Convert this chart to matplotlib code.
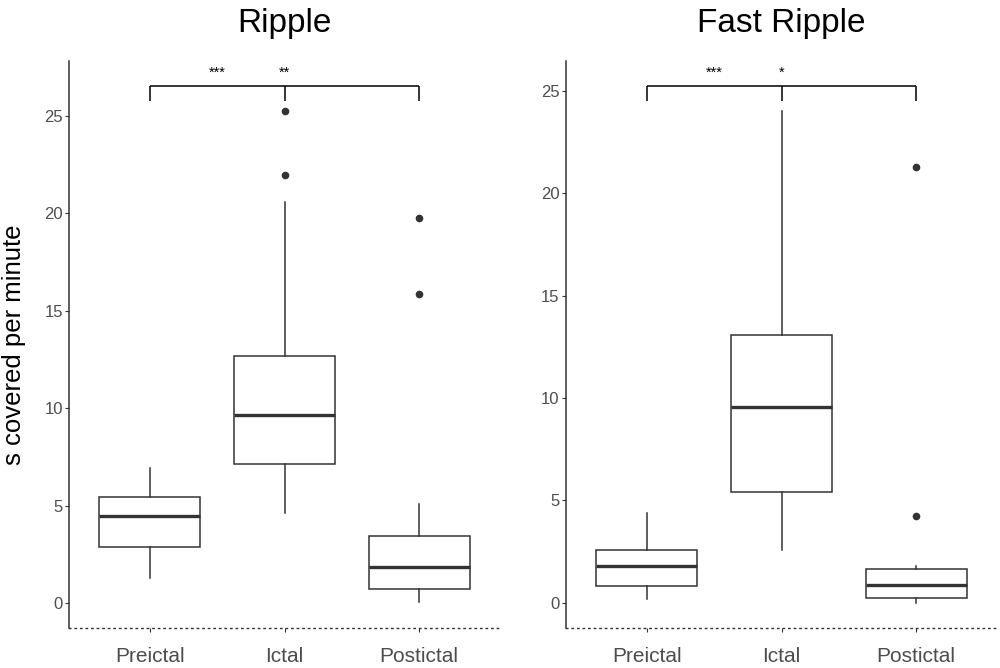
import matplotlib
matplotlib.use("Agg")
import matplotlib.pyplot as plt

plt.rcParams['font.family'] = ['Liberation Sans', 'DejaVu Sans']

categories = ["Preictal", "Ictal", "Postictal"]

# Ripple panel stats
rip_whislo = [1.30, 4.63, 0.04]
rip_q1 = [2.86, 7.13, 0.70]
rip_med = [4.46, 9.64, 1.83]
rip_q3 = [5.42, 12.68, 3.42]
rip_whishi = [6.90, 20.58, 5.08]
rip_fliers = [[], [25.25, 21.95], [19.76, 15.83]]

# Fast Ripple panel stats
fr_whislo = [0.20, 2.60, 0.00]
fr_q1 = [0.81, 5.42, 0.22]
fr_med = [1.79, 9.56, 0.88]
fr_q3 = [2.60, 13.06, 1.64]
fr_whishi = [4.40, 24.01, 1.82]
fr_fliers = [[], [], [21.26, 4.25]]

titles = ["Ripple", "Fast Ripple"]
sig_labels = [["***", "**"], ["***", "*"]]
bracket_y = [26.5, 25.23]
bracket_drop = [0.76, 0.73]
sig_y = [27.2, 25.9]
ylims = [(-1.28, 27.8), (-1.23, 26.46)]

panels = [
    (rip_whislo, rip_q1, rip_med, rip_q3, rip_whishi, rip_fliers),
    (fr_whislo, fr_q1, fr_med, fr_q3, fr_whishi, fr_fliers),
]

fig = plt.figure(figsize=(10, 6.68), dpi=100)
ax_rects = [[0.069, 0.0599, 0.431, 0.8488], [0.566, 0.0599, 0.431, 0.8488]]
dark = "#333333"

for i, (wl, q1, md, q3, wh, fl) in enumerate(panels):
    ax = fig.add_axes(ax_rects[i])
    stats = []
    for k in range(len(categories)):
        stats.append(dict(med=md[k], q1=q1[k], q3=q3[k], whislo=wl[k], whishi=wh[k], fliers=fl[k]))
    ax.bxp(stats, positions=[1, 2, 3], widths=0.75, showcaps=False, patch_artist=True,
           boxprops=dict(facecolor="white", edgecolor=dark, linewidth=1.1),
           medianprops=dict(color=dark, linewidth=2.4, solid_capstyle='butt'),
           whiskerprops=dict(color=dark, linewidth=1.1),
           flierprops=dict(marker='o', markerfacecolor=dark, markeredgecolor=dark, markersize=4.5))
    ax.set_xlim(0.4, 3.6)
    ax.set_ylim(*ylims[i])
    ax.set_xticks([1, 2, 3])
    ax.set_xticklabels(categories, fontsize=15, color="#4d4d4d")
    ax.set_yticks([0, 5, 10, 15, 20, 25])
    ax.set_yticklabels(["0", "5", "10", "15", "20", "25"], fontsize=12, color="#4d4d4d")
    ax.tick_params(axis='y', length=3, width=0.8, color=dark, pad=1.5)
    ax.tick_params(axis='x', length=3, width=0.8, color=dark, pad=11)
    for s in ['top', 'right']:
        ax.spines[s].set_visible(False)
    ax.spines['left'].set_color(dark)
    ax.spines['left'].set_linewidth(1.1)
    ax.spines['bottom'].set_color(dark)
    ax.spines['bottom'].set_linestyle((0, (1, 3)))
    ax.spines['bottom'].set_linewidth(1.0)
    ax.set_title(titles[i], fontsize=24, pad=21, color="black")

    # significance bracket
    by = bracket_y[i]
    dr = bracket_drop[i]
    ax.plot([1, 3], [by, by], color="black", lw=1.1, solid_capstyle='butt')
    for xp in [1, 2, 3]:
        ax.plot([xp, xp], [by, by - dr], color="black", lw=1.1, solid_capstyle='butt')
    ax.text(1.5, sig_y[i], sig_labels[i][0], ha='center', va='center', fontsize=10.5)
    ax.text(2.0, sig_y[i], sig_labels[i][1], ha='center', va='center', fontsize=10.5)

    if i == 0:
        ax.set_ylabel("s covered per minute", fontsize=18.5)
        ax.yaxis.set_label_coords(-0.100, 0.5)

fig.savefig("out.png", dpi=100, facecolor="white")
